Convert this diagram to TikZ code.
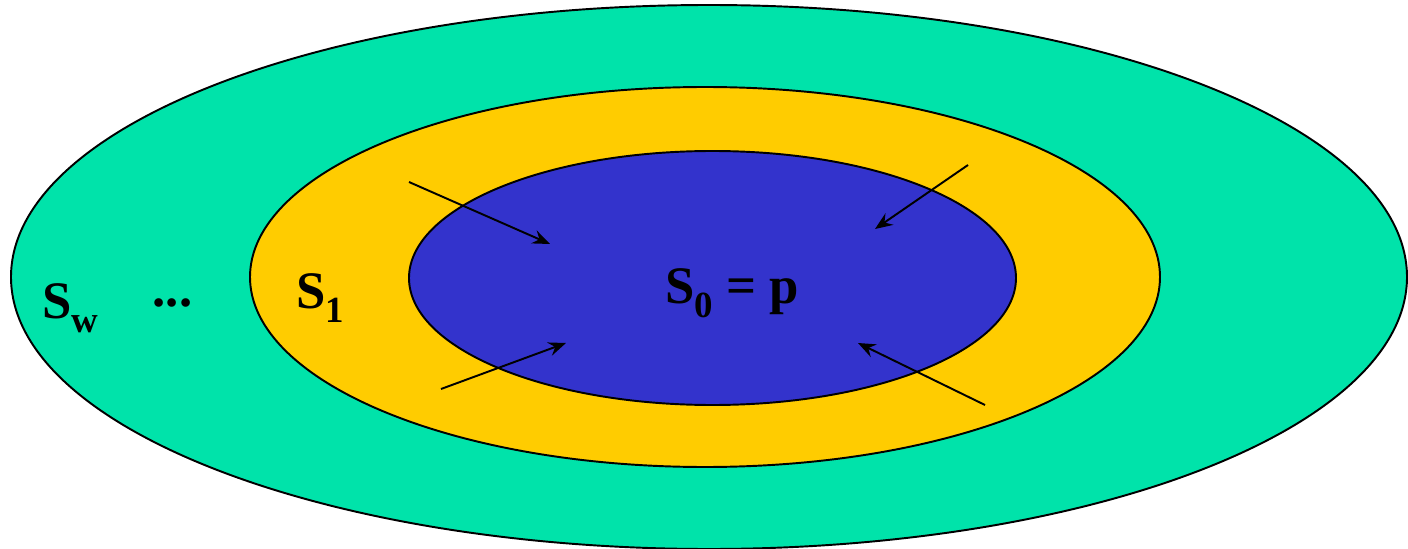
\documentclass[tikz,border=0pt]{standalone}
\usepackage{fontspec}
\setmainfont{Liberation Serif}
\usepackage{xcolor}
\usetikzlibrary{positioning,arrows.meta}

\definecolor{outergreen}{HTML}{00E3AA}
\definecolor{ringyellow}{HTML}{FFCC00}
\definecolor{coreblue}{HTML}{3333CC}

\newcommand{\setsub}[1]{\raisebox{-0.28em}{\fontsize{21}{21}\selectfont #1}}

\begin{document}
\begin{tikzpicture}[>=Stealth, every node/.style={font=\fontsize{30}{36}\selectfont\bfseries}]

  \useasboundingbox (0,0) rectangle (28.16,10.96);

  %% ─── Nested sets ────────────────────────────────────────────────────────
  \draw[line width=1.1pt, fill=outergreen] (14.18,5.42) ellipse [x radius=13.96, y radius=5.44];
  \draw[line width=1.1pt, fill=ringyellow] (14.10,5.42) ellipse [x radius=9.10, y radius=3.80];
  \draw[line width=1.1pt, fill=coreblue]   (14.25,5.40) ellipse [x radius=6.07, y radius=2.54];

  %% ─── Labels ─────────────────────────────────────────────────────────────
  \node[anchor=base] (sw)   at (1.40,4.60) {S\setsub{w}};
  \node[anchor=base] (dots) at (3.45,4.82) {...};
  \node[anchor=base] (s1)   at (6.40,4.80) {S\setsub{1}};
  \node[anchor=base] (s0)   at (14.64,4.90) {S\setsub{0} = p};

  %% ─── Arrows into S0 ─────────────────────────────────────────────────────
  \coordinate (nw_a) at (8.18,7.32);  \coordinate (nw_b) at (11.00,6.08);
  \coordinate (ne_a) at (19.36,7.66); \coordinate (ne_b) at (17.50,6.38);
  \coordinate (sw_a) at (8.82,3.18);  \coordinate (sw_b) at (11.32,4.10);
  \coordinate (se_a) at (19.70,2.86); \coordinate (se_b) at (17.16,4.10);

  \foreach \a/\b in {nw_a/nw_b, ne_a/ne_b, sw_a/sw_b, se_a/se_b}
    \draw[line width=1.1pt, -{Stealth[length=10pt,width=8pt,inset=3.5pt]}] (\a) -- (\b);

\end{tikzpicture}
\end{document}
